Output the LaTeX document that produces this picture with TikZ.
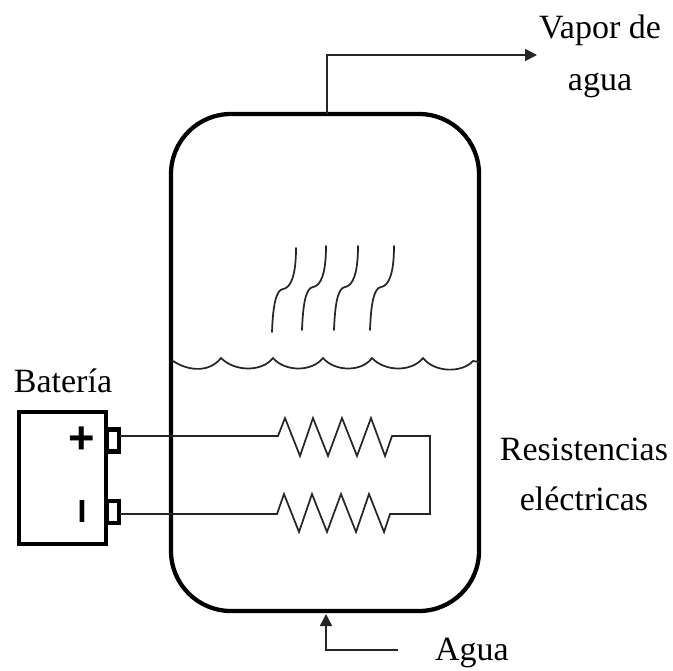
\documentclass[tikz,border=0pt]{standalone}
\usepackage{fontspec}
\setmainfont{Liberation Serif}
\newfontfamily\symfont{Liberation Sans}
\usetikzlibrary{arrows.meta}
\tikzset{
  heavy/.style={draw=black,line width=3.2pt,line join=round},
  mid/.style={draw=black,line width=3.2pt,line join=miter},
  wire/.style={draw=black!85,line width=1.3pt,line join=miter},
  thin curve/.style={draw=black!85,line width=1.3pt,line cap=round},
  flow/.style={draw=black!85,line width=1.3pt,-{Triangle[length=9pt,width=9pt]}},
  lbl/.style={font=\fontsize{25.5pt}{28pt}\selectfont,text=black,inner sep=0pt,anchor=base},
  sym/.style={font=\symfont\bfseries\fontsize{34pt}{34pt}\selectfont,inner sep=0pt,text=black}
}
\begin{document}
\begin{tikzpicture}[x=0.75pt,y=-0.75pt]
\useasboundingbox (0,0) rectangle (673,670);
% vessel
\draw[heavy,rounded corners=45pt] (171,114) rectangle (479,611);
\coordinate (vtop) at (327,114);
\coordinate (vbot) at (326,614);
% steam
\foreach \dx/\dy in {0/0,30/-2,62/-2,98/-2}{
  \draw[thin curve,shift={(\dx*0.75pt,\dy*-0.75pt)}] (272,332) .. controls (273,305) and (276,290) .. (283,289)
     .. controls (291,288) and (296,275) .. (296,248);
}
% water
\draw[thin curve] (173,361) .. controls (190,372) and (210,372) .. (221,358)
  .. controls (235,372) and (262,372) .. (273,358)
  .. controls (285,372) and (312,372) .. (323,358)
  .. controls (335,372) and (362,372) .. (372,358)
  .. controls (385,372) and (412,372) .. (423,358)
  .. controls (435,373) and (462,373) .. (473,361) -- (479,362);
% battery
\node[mid,minimum width=65pt,minimum height=99pt,inner sep=0pt,anchor=north west] (bat) at (17,409.5) {};
\node[mid,minimum width=9pt,minimum height=16.5pt,inner sep=0pt] (tp) at (113,440.5) {};
\node[mid,minimum width=9pt,minimum height=16.5pt,inner sep=0pt] (tn) at (113,512) {};
\node[sym] (plus) at (82,440) {+};
\node[sym,font=\symfont\bfseries\fontsize{24pt}{24pt}\selectfont] (minus) at (82,511.5) {I};
% resistors
\coordinate (ra) at (278,436);
\coordinate (rb) at (277,514);
\coordinate (ea) at (392,436);
\coordinate (eb) at (390,514);
\coordinate (jt) at (430,436);
\coordinate (jb) at (430,514);
\draw[wire] (120,436) -- (ra) -- (285,418) -- (300,456) -- (313,418) -- (328,456) -- (342,418) -- (357,456) -- (371,418) -- (385,456) -- (ea) -- (jt) -- (jb) -- (eb)
  -- (384,532) -- (369,494) -- (356,532) -- (341,494) -- (327,532) -- (312,494) -- (299,532) -- (284,494) -- (rb) -- (120,514);
% flows
\coordinate (vc) at (327,55);
\coordinate (vo) at (537,55);
\draw[flow] (vtop) -- (vc) -- (vo);
\coordinate (as) at (398,650);
\coordinate (ac) at (326,650);
\draw[flow] (as) -- (ac) -- (vbot);
% labels
\node[lbl] (l1) at (600,39) {Vapor de};
\node[lbl] (l2) at (600,91) {agua};
\node[lbl] (l3) at (63,392) {Batería};
\node[lbl] (l4) at (584,460) {Resistencias};
\node[lbl] (l5) at (584,510) {eléctricas};
\node[lbl] (l6) at (472,660) {Agua};
\end{tikzpicture}
\end{document}
